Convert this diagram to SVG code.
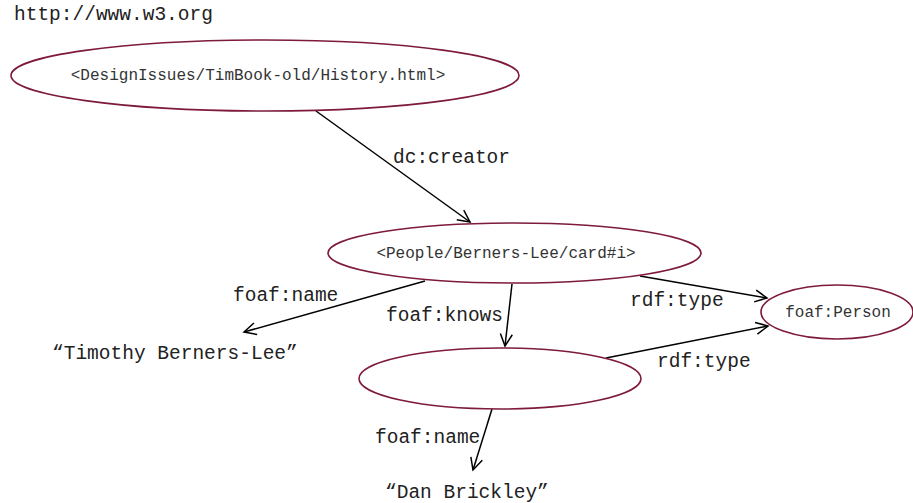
<svg xmlns="http://www.w3.org/2000/svg" width="913" height="503" viewBox="0 0 913 503">
<style>
.node{fill:#fff;stroke:#7e1a3c;stroke-width:1.6}
.nl{font-family:"Liberation Mono",monospace;font-size:16px;fill:#333;text-anchor:middle}
.el{font-family:"Liberation Mono",monospace;font-size:19.5px;fill:#222}
.edge{stroke:#000;stroke-width:1.5;fill:none;marker-end:url(#arr)}
</style>
<defs>
<marker id="arr" markerUnits="userSpaceOnUse" markerWidth="16" markerHeight="16" viewBox="0 0 16 16" refX="13" refY="8" orient="auto">
<path d="M1,2 L13,8 L1,14" fill="none" stroke="#000" stroke-width="1.5"/>
</marker>
</defs>
<text class="el" x="14" y="20">http://www.w3.org</text>
<g id="connectors">
<line class="edge" x1="316" y1="111" x2="470" y2="222"/>
<line class="edge" x1="425" y1="281" x2="244" y2="332"/>
<line class="edge" x1="512" y1="284" x2="505" y2="346"/>
<line class="edge" x1="640" y1="276" x2="767" y2="298"/>
<line class="edge" x1="606" y1="358" x2="768" y2="326"/>
<line class="edge" x1="492" y1="409" x2="473" y2="470"/>
<text class="el" x="393" y="163">dc:creator</text>
<text class="el" x="233" y="301">foaf:name</text>
<text class="el" x="386" y="321">foaf:knows</text>
<text class="el" x="630" y="306">rdf:type</text>
<text class="el" x="657" y="367">rdf:type</text>
<text class="el" x="375" y="443">foaf:name</text>
</g>
<g id="history">
<ellipse class="node" cx="265" cy="75.5" rx="254" ry="35.5"/>
<text class="nl" x="258" y="80">&lt;DesignIssues/TimBook-old/History.html&gt;</text>
</g>
<g id="timbl">
<ellipse class="node" cx="514.5" cy="253" rx="186.5" ry="30"/>
<text class="nl" x="506" y="258">&lt;People/Berners-Lee/card#i&gt;</text>
</g>
<g id="person">
<ellipse class="node" cx="837" cy="312" rx="76" ry="27"/>
<text class="nl" x="838" y="317">foaf:Person</text>
</g>
<g id="blank">
<ellipse class="node" cx="500" cy="378.5" rx="141" ry="30.5"/>
</g>
<g id="lit-tim">
<text class="el" x="52" y="359">“Timothy Berners-Lee”</text>
</g>
<g id="lit-dan">
<text class="el" x="385" y="498">“Dan Brickley”</text>
</g>
</svg>
